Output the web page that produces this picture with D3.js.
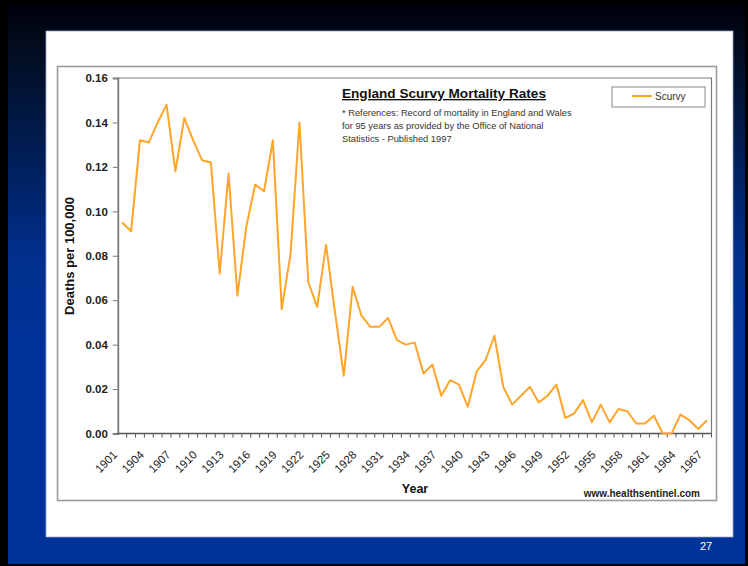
<!DOCTYPE html>
<html>
<head>
<meta charset="utf-8">
<script src="https://cdn.jsdelivr.net/npm/d3@7"></script>
<style>
  body { margin: 0; background: #000; }
  svg { display: block; font-family: "Liberation Sans", Arial, sans-serif; }
</style>
</head>
<body>
<div id="chart"></div>
<script>
var width = 748
var height = 566

// data
var years = d3.range(1901, 1968);
var scurvy = [
  0.095, 0.091, 0.132, 0.131, 0.140, 0.148, 0.118, 0.142, 0.132, 0.123,
  0.122, 0.072, 0.117, 0.062, 0.093, 0.112, 0.109, 0.132, 0.056, 0.081,
  0.140, 0.068, 0.057, 0.085, 0.055, 0.026, 0.066, 0.053, 0.048, 0.048,
  0.052, 0.042, 0.040, 0.041, 0.027, 0.031, 0.017, 0.024, 0.022, 0.012,
  0.028, 0.033, 0.044, 0.021, 0.013, 0.017, 0.021, 0.014, 0.017, 0.022,
  0.007, 0.009, 0.015, 0.005, 0.013, 0.005, 0.011, 0.010, 0.0045, 0.0045,
  0.008, 0.000, 0.000, 0.0085, 0.006, 0.002, 0.006
];
var yTicks = [0, 0.02, 0.04, 0.06, 0.08, 0.10, 0.12, 0.14, 0.16];
var xLabelYears = years.filter(function(d) { return (d - 1901) % 3 == 0; });
var noteLines = [
  "* References: Record of mortality in England and Wales",
  "for 95 years as provided by the Office of National",
  "Statistics - Published 1997"
];

var plot = { left: 117.8, right: 711.5, top: 78, bottom: 433.5 };

var svg = d3.select("#chart").append("svg")
    .attr("width", width)
    .attr("height", height);

// slide background
var grad = svg.append("defs").append("linearGradient")
    .attr("id", "bg")
    .attr("x1", 0).attr("y1", 0).attr("x2", 0).attr("y2", 1);
grad.append("stop").attr("offset", 0).attr("stop-color", "#00000e");
grad.append("stop").attr("offset", 0.06).attr("stop-color", "#020b1a");
grad.append("stop").attr("offset", 0.22).attr("stop-color", "#011a48");
grad.append("stop").attr("offset", 0.45).attr("stop-color", "#002f8c");
grad.append("stop").attr("offset", 0.6).attr("stop-color", "#003399");

svg.append("rect").attr("width", width).attr("height", height).attr("fill", "#000");
svg.append("rect")
    .attr("x", 8).attr("y", 6)
    .attr("width", 737).attr("height", 558)
    .attr("fill", "url(#bg)");

// white panel
svg.append("rect")
    .attr("x", 46).attr("y", 31)
    .attr("width", 687).attr("height", 506)
    .attr("fill", "#fff")
    .attr("stroke", "#9aa6c8")
    .attr("stroke-width", 0.8);

// chart area border
svg.append("rect")
    .attr("x", 57.5).attr("y", 66.5)
    .attr("width", 659).attr("height", 434)
    .attr("fill", "#fff")
    .attr("stroke", "#9c9c9c")
    .attr("stroke-width", 1.6);

// page number
svg.append("text")
    .attr("x", 706).attr("y", 550)
    .attr("text-anchor", "middle")
    .attr("fill", "#fff")
    .style("font-size", "11px")
    .text("27");

var xScale = d3.scaleBand()
    .domain(years)
    .range([plot.left, plot.right]);

var yScale = d3.scaleLinear()
    .domain([0, 0.16])
    .range([plot.bottom, plot.top]);

// plot area border (top / right)
svg.append("path")
    .attr("d", "M" + plot.left + "," + plot.top + "H" + plot.right + "V" + plot.bottom)
    .attr("fill", "none")
    .attr("stroke", "#7a7a7a")
    .attr("stroke-width", 1.2);

// y axis
var yAxis = svg.append("g")
    .attr("transform", "translate(" + plot.left + ",0)")
    .call(d3.axisLeft(yScale)
        .tickValues(yTicks)
        .tickFormat(d3.format(".2f"))
        .tickSize(5)
        .tickPadding(5));
yAxis.select(".domain").attr("stroke", "#7a7a7a").attr("stroke-width", 1.8);
yAxis.selectAll(".tick line").attr("stroke", "#7a7a7a");
yAxis.selectAll("text")
    .attr("fill", "#222")
    .style("font-size", "11.5px")
    .style("font-weight", "bold");

// x axis: ticks at category boundaries, labels every third year
var xAxis = svg.append("g")
    .attr("transform", "translate(0," + plot.bottom + ")");
xAxis.append("line")
    .attr("x1", plot.left).attr("x2", plot.right)
    .attr("stroke", "#555").attr("stroke-width", 1.4);
xAxis.selectAll(".tk")
    .data(years)
    .enter().append("line")
    .attr("class", "tk")
    .attr("x1", function(d) { return xScale(d) + xScale.bandwidth(); })
    .attr("x2", function(d) { return xScale(d) + xScale.bandwidth(); })
    .attr("y1", 0).attr("y2", 4)
    .attr("stroke", "#555");
xAxis.selectAll(".lbl")
    .data(xLabelYears)
    .enter().append("text")
    .attr("class", "lbl")
    .attr("transform", function(d) {
        return "translate(" + (xScale(d) + xScale.bandwidth() / 2 - 7) + ",19) rotate(-45)";
    })
    .attr("text-anchor", "end")
    .attr("dy", "0.35em")
    .attr("fill", "#222")
    .style("font-size", "11.5px")
    .text(function(d) { return d; });

// axis titles
svg.append("text")
    .attr("x", 415).attr("y", 493)
    .attr("text-anchor", "middle")
    .attr("fill", "#111")
    .style("font-size", "12.5px")
    .style("font-weight", "bold")
    .text("Year");

svg.append("text")
    .attr("transform", "translate(74,256) rotate(-90)")
    .attr("text-anchor", "middle")
    .attr("fill", "#111")
    .style("font-size", "13px")
    .style("font-weight", "bold")
    .text("Deaths per 100,000");

// line
var line = d3.line()
    .x(function(d, i) { return xScale(years[i]) + xScale.bandwidth() / 2; })
    .y(function(d) { return yScale(d); });

svg.append("path")
    .datum(scurvy)
    .attr("fill", "none")
    .attr("stroke", "#ffa52a")
    .attr("stroke-width", 2)
    .attr("stroke-linejoin", "round")
    .attr("d", line);

// title and notes
svg.append("text")
    .attr("x", 342).attr("y", 98)
    .attr("fill", "#111")
    .style("font-size", "13.6px")
    .style("font-weight", "bold")
    .style("text-decoration", "underline")
    .text("England Scurvy Mortality Rates");

svg.selectAll(".note")
    .data(noteLines)
    .enter().append("text")
    .attr("class", "note")
    .attr("x", 342)
    .attr("y", function(d, i) { return 116 + i * 13; })
    .attr("fill", "#333")
    .style("font-size", "9.3px")
    .text(function(d) { return d; });

// legend
var legend = svg.append("g").attr("transform", "translate(612,87)");
legend.append("rect")
    .attr("width", 93).attr("height", 20)
    .attr("fill", "#fff")
    .attr("stroke", "#888")
    .attr("stroke-width", 1);
legend.append("line")
    .attr("x1", 20).attr("x2", 40)
    .attr("y1", 9).attr("y2", 9)
    .attr("stroke", "#ffa52a").attr("stroke-width", 2);
legend.append("text")
    .attr("x", 43).attr("y", 13)
    .attr("fill", "#333")
    .style("font-size", "10px")
    .text("Scurvy");

// source
svg.append("text")
    .attr("x", 700).attr("y", 497)
    .attr("text-anchor", "end")
    .attr("fill", "#222")
    .style("font-size", "10px")
    .style("font-weight", "bold")
    .text("www.healthsentinel.com");
</script>
</body>
</html>
